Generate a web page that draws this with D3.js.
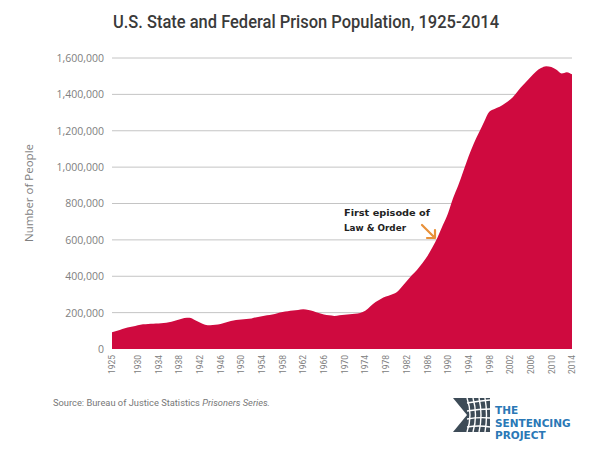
<!DOCTYPE html>
<html>
<head>
<meta charset="utf-8">
<script src="https://cdn.jsdelivr.net/npm/d3@7"></script>
<style>
body{margin:0;background:#fff;}
</style>
</head>
<body>
<script>
//DATA
var years=[1925,1926,1927,1928,1929,1930,1931,1932,1933,1934,1935,1936,1937,1938,1939,1940,1941,1942,1943,1944,
1945,1946,1947,1948,1949,1950,1951,1952,1953,1954,1955,1956,1957,1958,1959,1960,1961,1962,1963,1964,
1965,1966,1967,1968,1969,1970,1971,1972,1973,1974,1975,1976,1977,1978,1979,1980,1981,1982,1983,1984,
1985,1986,1987,1988,1989,1990,1991,1992,1993,1994,1995,1996,1997,1998,1999,2000,2001,2002,2003,2004,
2005,2006,2007,2008,2009,2010,2011,2012,2013,2014];
var population=[92000,100000,110000,118000,124000,131000,136000,138000,139000,140000,143000,147000,154000,162000,170000,172000,160000,146000,134000,130000,
133000,138000,146000,154000,159000,162000,165000,168000,175000,180000,185000,190000,197000,203000,207000,211000,215000,218000,215000,208000,
198000,190000,185000,182000,186000,189000,191000,194000,198000,210000,235000,258000,275000,288000,298000,310000,340000,372000,405000,435000,
470000,510000,560000,615000,680000,745000,830000,900000,980000,1060000,1130000,1190000,1250000,1305000,1320000,1332000,1350000,1370000,1400000,1435000,
1465000,1495000,1525000,1545000,1555000,1550000,1535000,1515000,1522000,1510000];
var yticks=[0,200000,400000,600000,800000,1000000,1200000,1400000,1600000];
var xticks=[1925,1930,1934,1938,1942,1946,1950,1954,1958,1962,1966,1970,1974,1978,1982,1986,1990,1994,1998,2002,2006,2010,2014];
var title="U.S. State and Federal Prison Population, 1925-2014";
var note=["First episode of","Law & Order"];

//SVG VARIABLES
var width=600;
var height=459;
var left=112;   // chart left edge
var right=572;  // chart right edge
var top_=58;    // 1,600,000 line
var bottom=349; // zero line

var svg=d3.select("body").append("svg")
	.attr("width",width)
	.attr("height",height)
	.style("font-family","Roboto,sans-serif");

var x=d3.scaleLinear().domain([1925,2014]).range([left,right]);
var y=d3.scaleLinear().domain([0,1600000]).range([bottom,top_]);

//TITLE
svg.append("text")
	.attr("x",306).attr("y",28)
	.attr("text-anchor","middle")
	.attr("font-size",19)
	.attr("font-weight",500)
	.attr("fill","#3a3a3a")
	.attr("textLength",386)
	.attr("lengthAdjust","spacingAndGlyphs")
	.text(title);

//GRIDLINES
svg.append("g").selectAll("line")
	.data(yticks.slice(1))
	.enter().append("line")
	.attr("x1",left).attr("x2",right)
	.attr("y1",function(d){return y(d);})
	.attr("y2",function(d){return y(d);})
	.attr("stroke","#c4c4c4")
	.attr("stroke-width",1);

//AREA
var area=d3.area()
	.x(function(d,i){return x(years[i]);})
	.y0(bottom)
	.y1(function(d){return y(d);})
	.curve(d3.curveMonotoneX);
svg.append("path")
	.datum(population)
	.attr("d",area)
	.attr("fill","#cf0a3f");

//Y AXIS
var yAxis=d3.axisLeft(y).tickValues(yticks).tickSize(0).tickPadding(8)
	.tickFormat(d3.format(","));
var yg=svg.append("g").attr("transform","translate("+left+",0)").call(yAxis);
yg.select(".domain").remove();
yg.selectAll("text").attr("font-size",10.5).attr("fill","#808080").style("font-family","'Open Sans',sans-serif");

svg.append("text")
	.attr("transform","translate(33,193) rotate(-90)")
	.attr("text-anchor","middle")
	.attr("font-size",11.5)
	.attr("fill","#808080")
	.style("font-family","'Open Sans',sans-serif")
	.text("Number of People");

//X AXIS
var xAxis=d3.axisBottom(x).tickValues(xticks).tickSize(0).tickPadding(0)
	.tickFormat(d3.format("d"));
var xg=svg.append("g").attr("transform","translate(0,"+bottom+")").call(xAxis);
xg.select(".domain").remove();
xg.selectAll("text")
	.attr("transform","rotate(-90)")
	.attr("text-anchor","end")
	.attr("x",-6).attr("y",0).attr("dy","0.32em")
	.attr("font-size",8.5)
	.attr("fill","#808080")
	.style("font-family","Roboto,sans-serif");

//ANNOTATION
svg.selectAll(".note")
	.data(note)
	.enter().append("text")
	.attr("class","note")
	.attr("x",344)
	.attr("y",function(d,i){return 216+i*15;})
	.attr("font-size",9.5)
	.attr("font-weight","bold")
	.attr("fill","#222")
	.style("font-family","'DejaVu Sans',sans-serif")
	.attr("textLength",function(d,i){return i==0?86:62;})
	.attr("lengthAdjust","spacingAndGlyphs")
	.text(function(d){return d;});

svg.append("path")
	.attr("d","M422,225 L435,238 M427,238 L435,238 L435,230")
	.attr("fill","none")
	.attr("stroke","#e8913a")
	.attr("stroke-width",2.2)
	.attr("stroke-linecap","round")
	.attr("stroke-linejoin","round");

//SOURCE
var src=svg.append("text")
	.attr("x",53).attr("y",406)
	.attr("font-size",8.5)
	.attr("fill","#777")
	.attr("textLength",217)
	.attr("lengthAdjust","spacingAndGlyphs");
src.append("tspan").text("Source: Bureau of Justice Statistics ");
src.append("tspan").attr("font-style","italic").text("Prisoners Series.");

//LOGO
var logo=svg.append("g").attr("transform","translate(453,398)");
logo.append("rect").attr("width",37).attr("height",34).attr("fill","#3d4b57");
logo.append("path")
	.attr("d","M0,0 L14,17 L0,34 Z")
	.attr("fill","#fff");
var mesh=logo.append("g").attr("stroke","#fff").attr("stroke-width",1.4).attr("fill","none");
[0,1,2,3].forEach(function(k){
	mesh.append("path").attr("d","M"+(14+k*6)+",0 Q"+(20+k*5)+",17 "+(14+k*6)+",34");
	mesh.append("path").attr("d","M14,"+(5+k*8)+" Q26,"+(3+k*8)+" 37,"+(2+k*9));
});
var logotext=["THE","SENTENCING","PROJECT"];
svg.selectAll(".logo")
	.data(logotext)
	.enter().append("text")
	.attr("class","logo")
	.attr("x",495)
	.attr("y",function(d,i){return 414+i*12.5;})
	.attr("font-size",10.5)
	.attr("font-weight","bold")
	.attr("fill","#2a78b6")
	.style("font-family","'DejaVu Sans',sans-serif")
	.text(function(d){return d;});
</script>
</body>
</html>
